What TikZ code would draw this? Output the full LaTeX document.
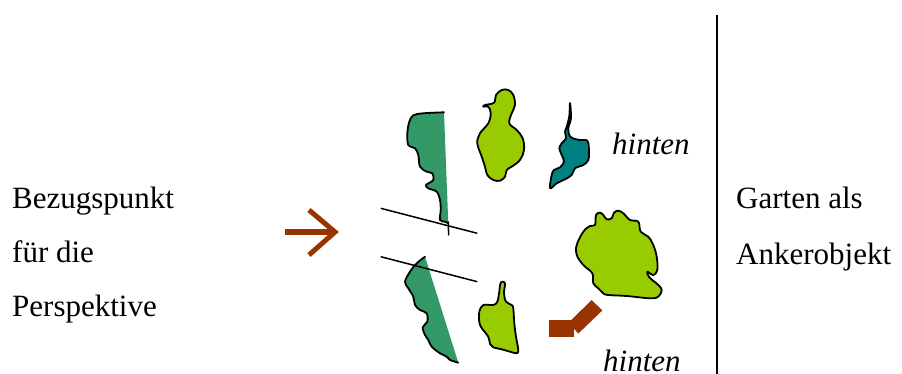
\documentclass[tikz,border=0pt]{standalone}
\usepackage{fontspec}
\setmainfont{Liberation Serif}
\definecolor{darkgreen}{HTML}{339966}
\definecolor{lightgreen}{HTML}{99CC00}
\definecolor{tealblue}{HTML}{008080}
\definecolor{rust}{HTML}{993300}
\begin{document}
\begin{tikzpicture}[x=1pt,y=-1pt,
  label text/.style={font=\fontsize{31}{36}\selectfont, inner sep=0pt, anchor=base west},
  side text/.style={font=\fontsize{31}{36}\selectfont\itshape, inner sep=0pt, anchor=base west},
  blob/.style={draw=black, line width=1.8pt, line join=round},
  outline/.style={draw=black, line width=1.8pt, line join=round, line cap=round},
  sightline/.style={draw=black, line width=1.5pt},
  pointer/.style={draw=rust, line width=5pt, line join=miter}]
\useasboundingbox (0,0) rectangle (902,374);

% left column: reference point
\node[label text] (ref1) at (12,208) {Bezugspunkt};
\node[label text] (ref2) at (12,262) {für die};
\node[label text] (ref3) at (12,316) {Perspektive};

% arrow towards the scene
\coordinate (arrA) at (285,232);
\coordinate (arrB) at (335,232);
\coordinate (arrU) at (309,210);
\coordinate (arrD) at (309,255);
\draw[pointer] (arrA) -- (arrB);
\draw[pointer] (arrU) -- (arrB) -- (arrD);

% upper dark green hedge: filled with a straight right edge, outlined on the left
\fill[darkgreen] plot[smooth, tension=0.55] coordinates {(444,112.3) (423.3,113.3) (413.3,115.3) (409.3,121.7) (407.3,133.3) (408.3,145) (415,148.3) (418.3,155) (420,166.7) (426.7,171.7) (432.3,173.3) (433.3,180) (426,185) (428.3,188.3) (436.7,191.7) (440,200) (440.7,210) (440,220) (445,221.7) (448.3,223.3)} -- cycle;
\draw[outline] plot[smooth, tension=0.55] coordinates {(444,112.3) (423.3,113.3) (413.3,115.3) (409.3,121.7) (407.3,133.3) (408.3,145) (415,148.3) (418.3,155) (420,166.7) (426.7,171.7) (432.3,173.3) (433.3,180) (426,185) (428.3,188.3) (436.7,191.7) (440,200) (440.7,210) (440,220) (445,221.7) (448.3,223.3)};
\coordinate (tickA) at (448.3,222);
\coordinate (tickB) at (448.6,235);
\draw[outline, line width=1.5pt] (tickA) -- (tickB);

% upper light green tree
\path[blob, fill=lightgreen] plot[smooth cycle, tension=0.6] coordinates {(485,105) (494,102.7) (496,95) (501.7,90) (508.3,90) (513.3,95) (515,105) (511.7,113.3) (509.3,123.3) (516.7,130) (522.7,138.3) (524,150) (520,160) (511.7,166.7) (506.7,170) (505,176.7) (500,180.7) (493.3,180) (487.3,175) (485,166.7) (481.7,156.7) (477.3,143.3) (480,133.3) (488.3,123.3) (490.7,113.3) (488.3,106.7) (483.3,106.7)};

% teal pond
\path[blob, fill=tealblue] plot[smooth cycle, tension=0.55] coordinates {(570,103) (571,118) (568.3,128.3) (569.3,135) (572.7,138.3) (580,140) (587.3,140.7) (589,150) (588.3,160) (583.3,165) (575,168.3) (571.7,175) (565,179.3) (556.7,183.3) (550,188.3) (551.7,175) (554,170) (560,167.3) (564,161.7) (561.7,155) (559.3,148.3) (561.7,143.3) (566,138.3) (565,131.7) (566.7,126.7) (569.3,116)};

% garden (anchor object)
\path[blob, fill=lightgreen] plot[smooth cycle, tension=0.6] coordinates {(595,225) (596,215) (600,212.7) (603.3,215) (606.7,219.3) (611.7,218.3) (614,212.7) (618.3,210.7) (623.3,213.3) (630,220) (638.3,221.7) (640.7,231.7) (648.3,236.7) (653.3,245) (656.7,256.7) (657.3,270) (653.3,275) (647.3,271.7) (649.3,277.3) (658.3,285) (661.7,290) (658.3,296.7) (650,298.3) (626.7,296) (608.3,295) (603.3,293.3) (598.3,288.3) (593.3,283.3) (592.3,273.3) (583.3,265) (576.7,255) (576.7,245) (583.3,231.7) (590,226)};

% lower dark green hedge
\fill[darkgreen] plot[smooth, tension=0.55] coordinates {(425,256.7) (416.7,263.3) (410,271.7) (405,281.7) (408.3,288.3) (413.3,296.7) (415,305) (420,310) (426.7,313.3) (427.3,321.7) (422.7,327.3) (425,335) (428.3,340) (431.7,346.7) (440,353.3) (446.7,356.7) (450,360) (458.3,362.7)} -- cycle;
\draw[outline] plot[smooth, tension=0.55] coordinates {(425,256.7) (416.7,263.3) (410,271.7) (405,281.7) (408.3,288.3) (413.3,296.7) (415,305) (420,310) (426.7,313.3) (427.3,321.7) (422.7,327.3) (425,335) (428.3,340) (431.7,346.7) (440,353.3) (446.7,356.7) (450,360) (458.3,362.7)};

% lower light green shrub
\path[blob, fill=lightgreen] plot[smooth cycle, tension=0.55] coordinates {(501.7,281.7) (505,283.3) (504,293.3) (506,301.7) (511.7,305) (513.3,308.3) (514.3,323.3) (516,336.7) (518.3,350) (516.7,353.3) (510,351.7) (501.7,349.3) (493.3,347.3) (490,344) (488.3,336.7) (480,325) (479.3,311.7) (483.3,305) (493.3,305) (497.3,301.7) (499.3,291.7) (500,285)};

% sight lines
\coordinate (s1a) at (380.7,208.3);
\coordinate (s1b) at (477.3,233.3);
\coordinate (s2a) at (380.7,256.7);
\coordinate (s2b) at (477.3,281.7);
\draw[sightline] (s1a) -- (s1b);
\draw[sightline] (s2a) -- (s2b);

% rust bench
\fill[rust] (549.3,320) rectangle (574,337);
\fill[rust] (591.7,300) -- (602.3,310.5) -- (578.3,333.5) -- (568.5,322.7) -- cycle;

% labels
\node[side text] (back1) at (612,155) {hinten};
\node[side text] (back2) at (603,371) {hinten};

% separator and right label
\coordinate (sepTop) at (717,15);
\coordinate (sepBot) at (717,374);
\draw[black, line width=1.8pt] (sepTop) -- (sepBot);
\node[label text] (anc1) at (736,209) {Garten als};
\node[label text] (anc2) at (736,264) {Ankerobjekt};
\end{tikzpicture}
\end{document}
